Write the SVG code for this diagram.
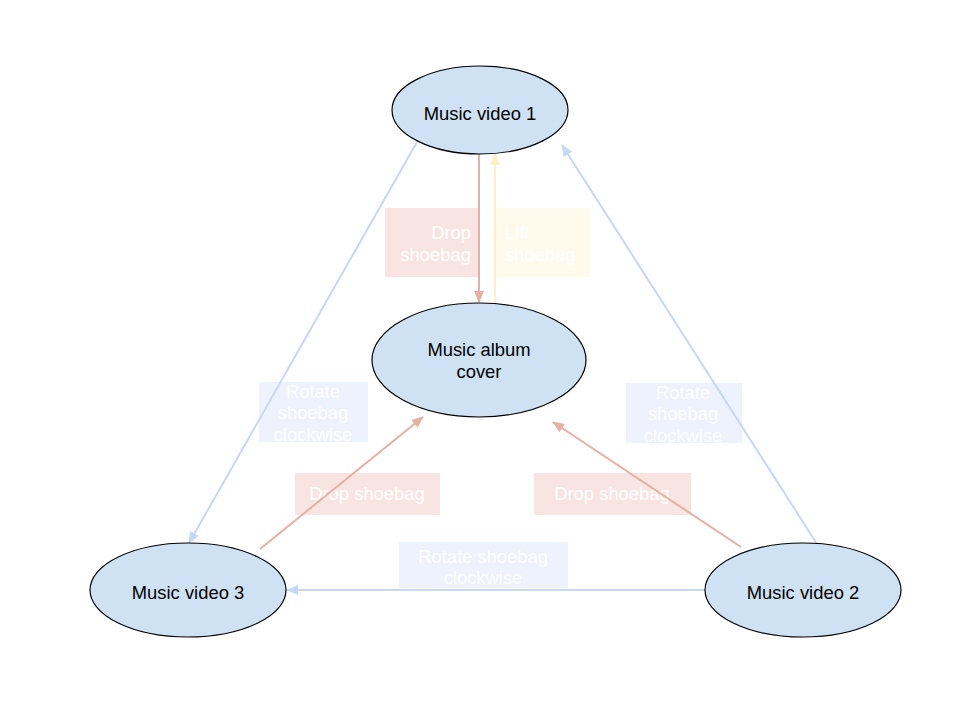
<svg xmlns="http://www.w3.org/2000/svg" width="960" height="721" viewBox="0 0 960 721">
  <style>
    .node ellipse { fill: #cfe2f3; stroke: #000000; stroke-width: 1.2; }
    .node text { font-family: "Liberation Sans", Arial, sans-serif; font-size: 18.4px; fill: #000000; text-anchor: middle; }
    .lbl text { font-family: "Liberation Sans", Arial, sans-serif; font-size: 18.4px; fill: #ffffff; }
    .red { stroke: #e6b0a4; }
    .blue { stroke: #c5d8f6; }
    .yellow { stroke: #fff0c4; }
    .edges line { stroke-width: 2; fill: none; }
  </style>
  <defs>
    <marker id="ah-red" viewBox="0 0 12 10" refX="11" refY="5" markerWidth="12" markerHeight="10" orient="auto" markerUnits="userSpaceOnUse">
      <path d="M0,0 L12,5 L0,10 z" fill="#e6b0a4"/>
    </marker>
    <marker id="ah-blue" viewBox="0 0 12 10" refX="11" refY="5" markerWidth="12" markerHeight="10" orient="auto" markerUnits="userSpaceOnUse">
      <path d="M0,0 L12,5 L0,10 z" fill="#c5d8f6"/>
    </marker>
    <marker id="ah-yellow" viewBox="0 0 12 10" refX="11" refY="5" markerWidth="12" markerHeight="10" orient="auto" markerUnits="userSpaceOnUse">
      <path d="M0,0 L12,5 L0,10 z" fill="#fff0c4"/>
    </marker>
  </defs>
  <rect width="960" height="721" fill="#ffffff"/>

  <!-- edge labels -->
  <g id="labels" class="lbl">
    <g id="lbl-drop-top">
      <rect x="385" y="208" width="95" height="69" fill="#f8e5e1"/>
      <text x="471" y="239" text-anchor="end">Drop</text>
      <text x="471" y="261" text-anchor="end">shoebag</text>
    </g>
    <g id="lbl-lift-top">
      <rect x="495" y="208" width="95" height="69" fill="#fffaeb"/>
      <text x="505" y="239">Lift</text>
      <text x="505" y="261">shoebag</text>
    </g>
    <g id="lbl-rotate-left">
      <rect x="259" y="382" width="109" height="60" fill="#edf2fc"/>
      <text x="313" y="398" text-anchor="middle">Rotate</text>
      <text x="313" y="419" text-anchor="middle">shoebag</text>
      <text x="313" y="441" text-anchor="middle">clockwise</text>
    </g>
    <g id="lbl-rotate-right">
      <rect x="626" y="383" width="116" height="60" fill="#edf2fc"/>
      <text x="683" y="399" text-anchor="middle">Rotate</text>
      <text x="683" y="420" text-anchor="middle">shoebag</text>
      <text x="683" y="442" text-anchor="middle">clockwise</text>
    </g>
    <g id="lbl-drop-left">
      <rect x="295" y="473" width="145" height="42" fill="#f8e5e1"/>
      <text x="367" y="500" text-anchor="middle">Drop shoebag</text>
    </g>
    <g id="lbl-drop-right">
      <rect x="534" y="473" width="157" height="42" fill="#f8e5e1"/>
      <text x="612" y="500" text-anchor="middle">Drop shoebag</text>
    </g>
    <g id="lbl-rotate-bottom">
      <rect x="399" y="542" width="169" height="46" fill="#edf2fc"/>
      <text x="483" y="563" text-anchor="middle">Rotate shoebag</text>
      <text x="483" y="584" text-anchor="middle">clockwise</text>
    </g>
  </g>

  <!-- connectors -->
  <g id="edges" class="edges">
    <line class="red" x1="479" y1="154" x2="479" y2="302" marker-end="url(#ah-red)"/>
    <line class="yellow" x1="495" y1="303" x2="495" y2="154" marker-end="url(#ah-yellow)"/>
    <line class="blue" x1="417" y1="142" x2="189" y2="543" marker-end="url(#ah-blue)"/>
    <line class="blue" x1="817" y1="544" x2="562" y2="145" marker-end="url(#ah-blue)"/>
    <line class="red" x1="260" y1="549" x2="423" y2="417" marker-end="url(#ah-red)"/>
    <line class="red" x1="741" y1="547" x2="553" y2="422" marker-end="url(#ah-red)"/>
    <line class="blue" x1="705" y1="590" x2="287" y2="590" marker-end="url(#ah-blue)"/>
  </g>

  <!-- nodes -->
  <g id="music-video-1" class="node">
    <ellipse cx="480" cy="110" rx="88" ry="44"/>
    <text x="480" y="120">Music video 1</text>
  </g>
  <g id="music-album-cover" class="node">
    <ellipse cx="479" cy="360" rx="107" ry="57"/>
    <text x="479" y="356">Music album</text>
    <text x="479" y="378">cover</text>
  </g>
  <g id="music-video-3" class="node">
    <ellipse cx="188" cy="590" rx="98" ry="47"/>
    <text x="188" y="599">Music video 3</text>
  </g>
  <g id="music-video-2" class="node">
    <ellipse cx="803" cy="590" rx="98" ry="47"/>
    <text x="803" y="599">Music video 2</text>
  </g>
</svg>
